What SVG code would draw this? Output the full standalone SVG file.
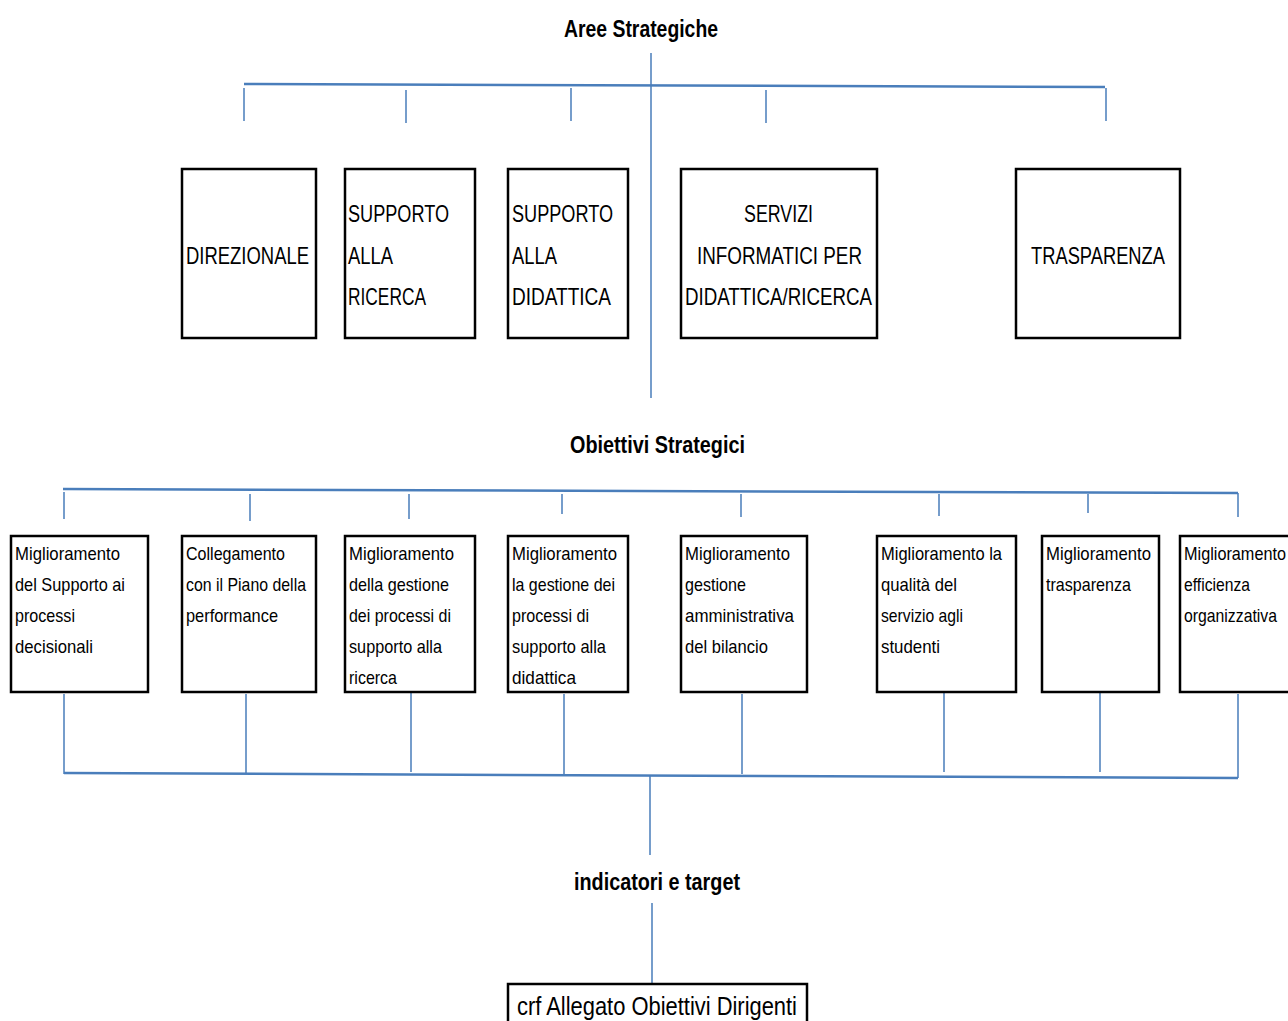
<svg xmlns="http://www.w3.org/2000/svg" width="1288" height="1021" viewBox="0 0 1288 1021">
<style>
.box{fill:#fff;stroke:#000;stroke-width:2.5}
.ln{stroke:#4a7ebb;stroke-width:1.5;fill:none}
.hl{stroke:#4a7ebb;stroke-width:2.5;fill:none}
text{font-family:"Liberation Sans",Arial,sans-serif;fill:#000}
.big{font-size:24px}
.sm{font-size:19px}
.h{font-weight:bold;font-size:24px}
</style>
<rect width="1288" height="1021" fill="#fff"/>
<g id="connectors">
<path class="hl" d="M244 84 L1105 87"/>
<path class="ln" d="M651 53 V398 M244 88 V121 M406 90 V123 M571 88 V121 M766 90 V123 M1106 88 V121"/>
<path class="hl" d="M63 489 L1238 493"/>
<path class="ln" d="M64 492 V519 M250 494 V521 M409 494 V519 M562 494 V514 M741 494 V517 M939 494 V516 M1088 494 V513 M1238 493 V517"/>
<path class="ln" d="M64 694 V774 M246 694 V774 M411 692 V772 M564 694 V774 M742 694 V774 M944 692 V772 M1100 692 V772 M1238 694 V778"/>
<path class="hl" d="M64 773 L1238 778"/>
<path class="ln" d="M650 775 V855 M652 903 V983"/>
</g>
<g id="titles">
<text class="h" x="564" y="37" textLength="154" lengthAdjust="spacingAndGlyphs">Aree Strategiche</text>
<text class="h" x="570" y="453" textLength="175" lengthAdjust="spacingAndGlyphs">Obiettivi Strategici</text>
<text class="h" x="574" y="890" textLength="166" lengthAdjust="spacingAndGlyphs">indicatori e target</text>
</g>
<g id="n-direzionale"><rect class="box" x="182" y="169" width="134" height="169"/><text class="big" x="186" y="264" textLength="123" lengthAdjust="spacingAndGlyphs">DIREZIONALE</text></g>
<g id="n-ricerca"><rect class="box" x="345" y="169" width="130" height="169"/><text class="big" x="348" y="222" textLength="101" lengthAdjust="spacingAndGlyphs">SUPPORTO</text><text class="big" x="348" y="264" textLength="45" lengthAdjust="spacingAndGlyphs">ALLA</text><text class="big" x="348" y="305" textLength="78" lengthAdjust="spacingAndGlyphs">RICERCA</text></g>
<g id="n-didattica"><rect class="box" x="508" y="169" width="120" height="169"/><text class="big" x="512" y="222" textLength="101" lengthAdjust="spacingAndGlyphs">SUPPORTO</text><text class="big" x="512" y="264" textLength="45" lengthAdjust="spacingAndGlyphs">ALLA</text><text class="big" x="512" y="305" textLength="99" lengthAdjust="spacingAndGlyphs">DIDATTICA</text></g>
<g id="n-servizi"><rect class="box" x="681" y="169" width="196" height="169"/><text class="big" x="744" y="222" textLength="69" lengthAdjust="spacingAndGlyphs">SERVIZI</text><text class="big" x="697" y="264" textLength="165" lengthAdjust="spacingAndGlyphs">INFORMATICI PER</text><text class="big" x="685" y="305" textLength="187" lengthAdjust="spacingAndGlyphs">DIDATTICA/RICERCA</text></g>
<g id="n-trasparenza"><rect class="box" x="1016" y="169" width="164" height="169"/><text class="big" x="1031" y="264" textLength="134" lengthAdjust="spacingAndGlyphs">TRASPARENZA</text></g>

<g id="o1"><rect class="box" x="11" y="536" width="137" height="156"/><text class="sm" x="15" y="560" textLength="105" lengthAdjust="spacingAndGlyphs">Miglioramento</text><text class="sm" x="15" y="591" textLength="110" lengthAdjust="spacingAndGlyphs">del Supporto  ai</text><text class="sm" x="15" y="622" textLength="60" lengthAdjust="spacingAndGlyphs">processi</text><text class="sm" x="15" y="653" textLength="78" lengthAdjust="spacingAndGlyphs">decisionali</text></g>
<g id="o2"><rect class="box" x="182" y="536" width="134" height="156"/><text class="sm" x="186" y="560" textLength="99" lengthAdjust="spacingAndGlyphs">Collegamento</text><text class="sm" x="186" y="591" textLength="120" lengthAdjust="spacingAndGlyphs">con il Piano della</text><text class="sm" x="186" y="622" textLength="92" lengthAdjust="spacingAndGlyphs">performance</text></g>
<g id="o3"><rect class="box" x="345" y="536" width="130" height="156"/><text class="sm" x="349" y="560" textLength="105" lengthAdjust="spacingAndGlyphs">Miglioramento</text><text class="sm" x="349" y="591" textLength="100" lengthAdjust="spacingAndGlyphs">della gestione</text><text class="sm" x="349" y="622" textLength="102" lengthAdjust="spacingAndGlyphs">dei processi di</text><text class="sm" x="349" y="653" textLength="93" lengthAdjust="spacingAndGlyphs">supporto alla</text><text class="sm" x="349" y="684" textLength="48" lengthAdjust="spacingAndGlyphs">ricerca</text></g>
<g id="o4"><rect class="box" x="508" y="536" width="120" height="156"/><text class="sm" x="512" y="560" textLength="105" lengthAdjust="spacingAndGlyphs">Miglioramento</text><text class="sm" x="512" y="591" textLength="103" lengthAdjust="spacingAndGlyphs">la gestione dei</text><text class="sm" x="512" y="622" textLength="77" lengthAdjust="spacingAndGlyphs">processi di</text><text class="sm" x="512" y="653" textLength="94" lengthAdjust="spacingAndGlyphs">supporto alla</text><text class="sm" x="512" y="684" textLength="64" lengthAdjust="spacingAndGlyphs">didattica</text></g>
<g id="o5"><rect class="box" x="681" y="536" width="126" height="156"/><text class="sm" x="685" y="560" textLength="105" lengthAdjust="spacingAndGlyphs">Miglioramento</text><text class="sm" x="685" y="591" textLength="61" lengthAdjust="spacingAndGlyphs">gestione</text><text class="sm" x="685" y="622" textLength="109" lengthAdjust="spacingAndGlyphs">amministrativa</text><text class="sm" x="685" y="653" textLength="83" lengthAdjust="spacingAndGlyphs">del bilancio</text></g>
<g id="o6"><rect class="box" x="877" y="536" width="139" height="156"/><text class="sm" x="881" y="560" textLength="121" lengthAdjust="spacingAndGlyphs">Miglioramento la</text><text class="sm" x="881" y="591" textLength="76" lengthAdjust="spacingAndGlyphs">qualità del</text><text class="sm" x="881" y="622" textLength="82" lengthAdjust="spacingAndGlyphs">servizio agli</text><text class="sm" x="881" y="653" textLength="59" lengthAdjust="spacingAndGlyphs">studenti</text></g>
<g id="o7"><rect class="box" x="1042" y="536" width="117" height="156"/><text class="sm" x="1046" y="560" textLength="105" lengthAdjust="spacingAndGlyphs">Miglioramento</text><text class="sm" x="1046" y="591" textLength="85" lengthAdjust="spacingAndGlyphs">trasparenza</text></g>
<g id="o8"><rect class="box" x="1180" y="536" width="120" height="156"/><text class="sm" x="1184" y="560" textLength="102" lengthAdjust="spacingAndGlyphs">Miglioramento</text><text class="sm" x="1184" y="591" textLength="66" lengthAdjust="spacingAndGlyphs">efficienza</text><text class="sm" x="1184" y="622" textLength="93" lengthAdjust="spacingAndGlyphs">organizzativa</text></g>

<g id="n-allegato"><rect class="box" x="508" y="984" width="299" height="50"/><text font-size="26" x="517" y="1015" textLength="280" lengthAdjust="spacingAndGlyphs">crf Allegato Obiettivi Dirigenti</text></g>
</svg>
